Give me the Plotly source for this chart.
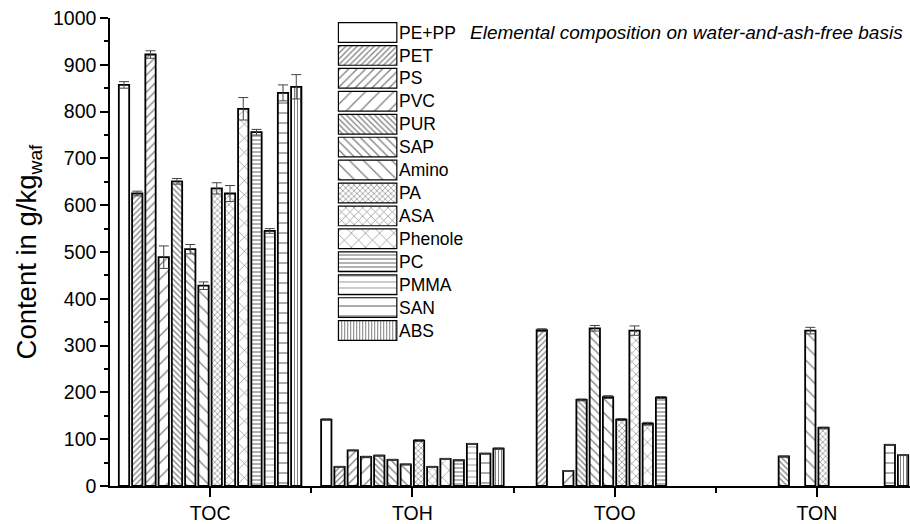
import plotly.graph_objects as go

# Element groups on the x axis
ELEMENTS = ["TOC", "TOH", "TOO", "TON"]

# Polymer classes (one bar per class in each element group)
POLYMERS = ["PE+PP", "PET", "PS", "PVC", "PUR", "SAP", "Amino", "PA",
            "ASA", "Phenole", "PC", "PMMA", "SAN", "ABS"]

# Contents in g/kg (water-and-ash-free); None = not present
TOC = [857, 625, 922, 489, 651, 506, 428, 636, 625, 806, 756, 545, 840, 853]
TOH = [142, 41, 76, 62, 65, 56, 46, 97, 41, 58, 55, 90, 69, 80]
TOO = [None, 333, None, 32, 184, 337, 190, 142, 332, 133, 189, None, None, None]
TON = [None, None, None, None, 63, None, 332, 124, None, None, None, None, 88, 66]

# Standard deviations
TOC_ERR = [7, 5, 8, 24, 6, 10, 8, 12, 17, 24, 6, 5, 17, 26]
TOH_ERR = [1.5, 1, 1, 1.5, 1, 1, 1, 2, 1, 1, 1, 1, 1, 1.5]
TOO_ERR = [None, 3, None, 1, 2, 6, 3, 2, 10, 3, 2, None, None, None]
TON_ERR = [None, None, None, None, 1, None, 7, 2, None, None, None, None, 1, 1]

# Fill pattern of each polymer class
PATTERN_SHAPE = ["", "/", "/", "/", "\\", "\\", "\\", "x", "x", "x", "-", "-", "-", "|"]
PATTERN_SIZE = [8, 4, 6, 10, 4, 6, 10, 4, 6, 10, 4, 6, 10, 3]
PATTERN_SOLIDITY = [0.1, 0.32, 0.22, 0.13, 0.32, 0.22, 0.13, 0.3, 0.2, 0.12,
                    0.3, 0.22, 0.13, 0.35]
PATTERN_COLOR = ["black"] * 11 + ["#666666", "black", "black"]

FONT = "Liberation Sans, Arial, sans-serif"

fig = go.Figure()

for i, name in enumerate(POLYMERS):
    vals = [TOC[i], TOH[i], TOO[i], TON[i]]
    errs = [TOC_ERR[i], TOH_ERR[i], TOO_ERR[i], TON_ERR[i]]
    fig.add_trace(go.Bar(
        x=list(range(len(ELEMENTS))),
        y=vals,
        name=name,
        showlegend=False,
        marker=dict(
            color="white",
            line=dict(color="black", width=1.8),
            pattern=dict(shape=PATTERN_SHAPE[i], size=PATTERN_SIZE[i],
                         solidity=PATTERN_SOLIDITY[i],
                         fgcolor=PATTERN_COLOR[i], bgcolor="white"),
        ),
        error_y=dict(type="data", array=errs, visible=True,
                     color="#444444", thickness=1, width=5),
    ))

# Legend swatches: one patterned box per polymer class
n = len(POLYMERS)
fig.add_trace(go.Bar(
    orientation="h",
    x=[1] * n,
    y=list(range(n)),
    width=0.86,
    xaxis="x2", yaxis="y2",
    showlegend=False,
    hoverinfo="skip",
    marker=dict(
        color="white",
        line=dict(color="black", width=1.2),
        pattern=dict(shape=PATTERN_SHAPE, size=PATTERN_SIZE,
                     solidity=PATTERN_SOLIDITY,
                     fgcolor=PATTERN_COLOR, bgcolor="white"),
    ),
))

fig.update_layout(
    width=910, height=524,
    margin=dict(l=110, r=0, t=18, b=38),
    paper_bgcolor="white", plot_bgcolor="white",
    barmode="group", bargap=0.083, bargroupgap=0.22,
    font=dict(family=FONT, size=19, color="black"),
    xaxis=dict(
        range=[-0.495, 3.46],
        tickvals=list(range(len(ELEMENTS))), ticktext=ELEMENTS,
        ticks="outside", ticklen=9, tickwidth=1.5, tickcolor="black",
        minor=dict(tickvals=[0.5, 1.5, 2.5], ticks="outside", ticklen=5,
                   tickwidth=1.5, tickcolor="black"),
        showline=True, linecolor="black", linewidth=1.5,
        showgrid=False, zeroline=False,
        tickfont=dict(size=19.5),
    ),
    yaxis=dict(
        range=[0, 1000], dtick=100,
        ticks="outside", ticklen=8, tickwidth=1.5, tickcolor="black",
        minor=dict(dtick=50, ticks="outside", ticklen=4,
                   tickwidth=1.5, tickcolor="black"),
        showline=True, linecolor="black", linewidth=1.5,
        showgrid=False, zeroline=False,
        tickfont=dict(size=19.5),
        title=dict(text="Content in g/kg<sub>waf</sub>", font=dict(size=27.5),
                   standoff=8),
    ),
    xaxis2=dict(domain=[0.284, 0.36], range=[-0.02, 1.02], anchor="y2",
                visible=False, fixedrange=True),
    yaxis2=dict(domain=[0.3077, 0.9936], range=[n - 0.5, -0.5], anchor="x2",
                side="right", tickvals=list(range(n)), ticktext=POLYMERS,
                ticks="", showline=False, showgrid=False, zeroline=False,
                tickfont=dict(size=17.5), fixedrange=True),
    annotations=[dict(
        text="Elemental composition on water-and-ash-free basis",
        xref="paper", yref="paper", x=0.994, y=0.97,
        xanchor="right", yanchor="middle", showarrow=False,
        font=dict(size=19, style="italic", family=FONT),
    )],
)

fig.write_html("out.html")
